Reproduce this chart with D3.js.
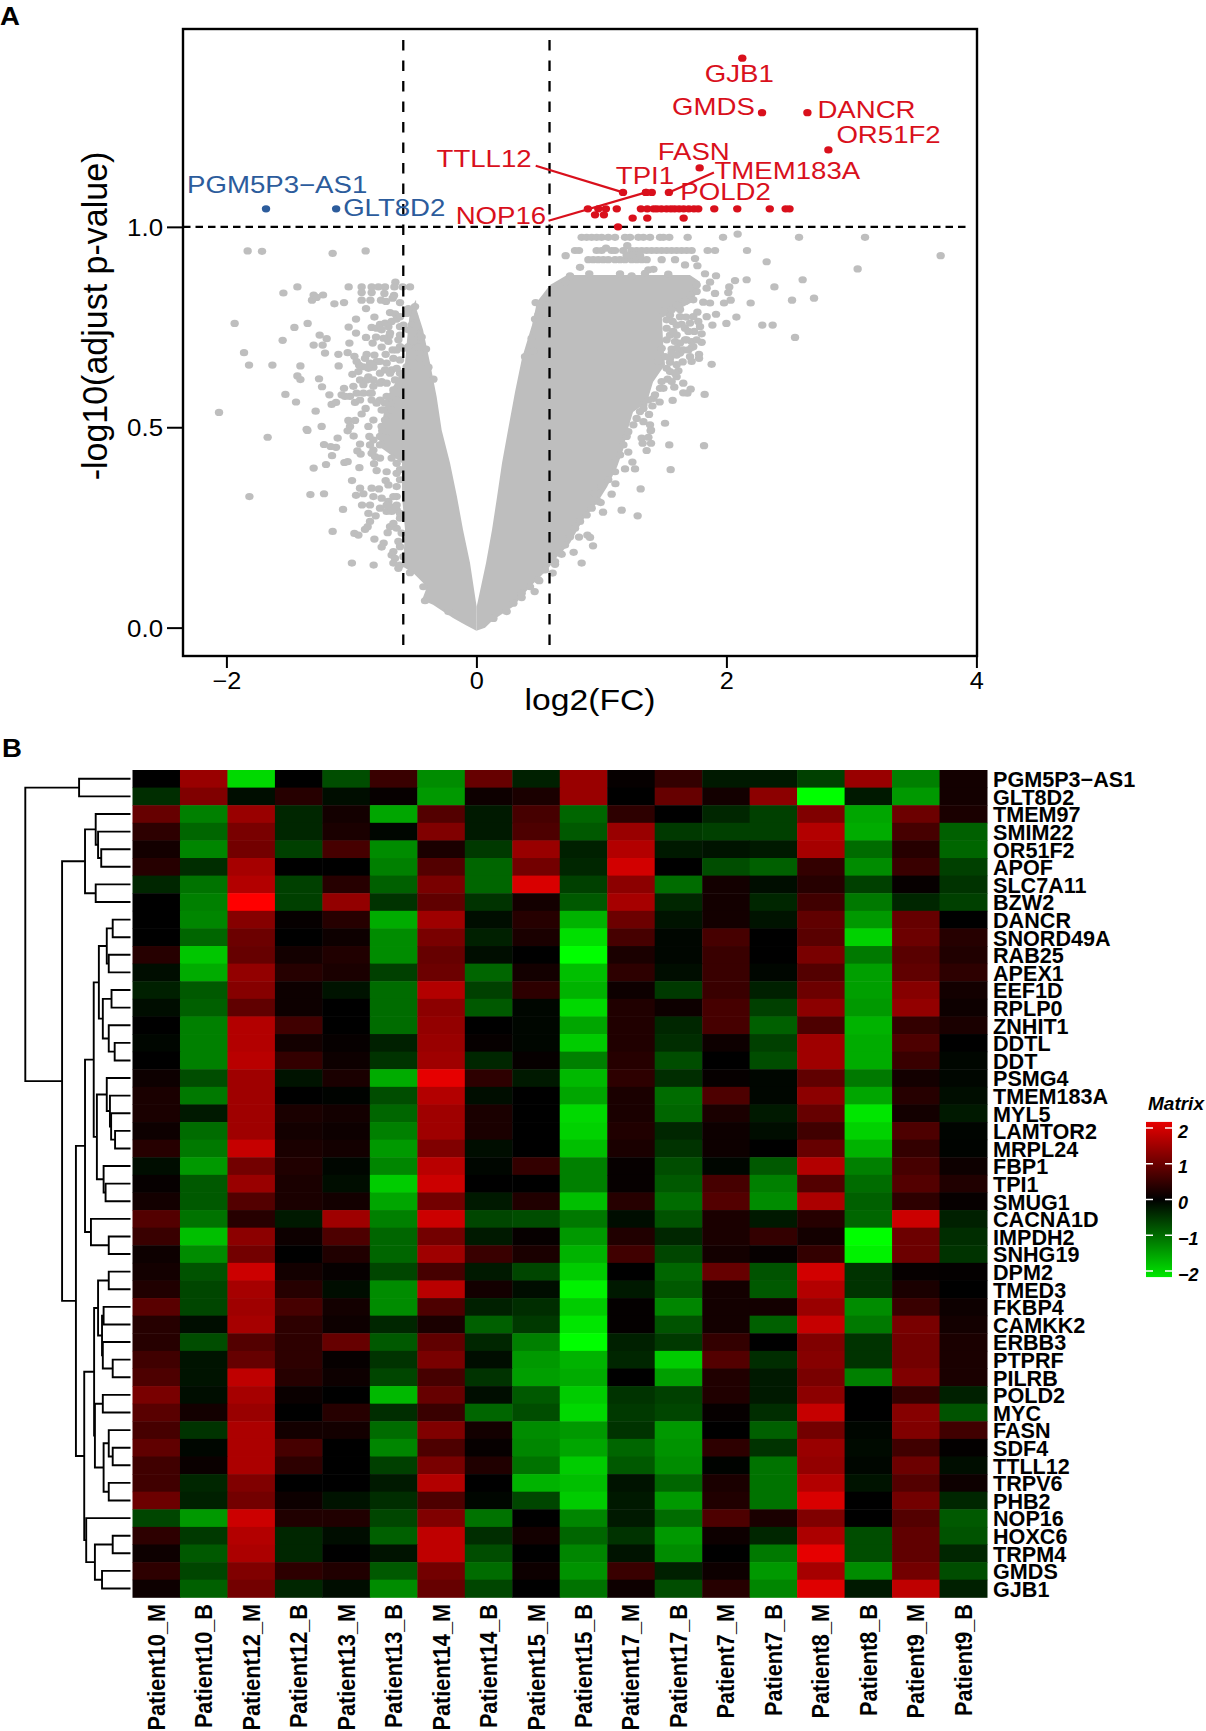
<!DOCTYPE html>
<html>
<head>
<meta charset="utf-8">
<script src="https://cdn.jsdelivr.net/npm/d3@7"></script>
<style>
  html, body { margin: 0; padding: 0; background: #fff; overflow: hidden; }
  svg { display: block; font-family: "Liberation Sans", Arial, sans-serif; }
</style>
</head>
<body>
<svg id="chart" width="1206" height="1731" viewBox="0 0 1206 1731"></svg>
<script>
// ---- panel A data: log2(FC), -log10(adjust p-value) ----

// Named genes
const geneNames = ['GJB1', 'GMDS', 'DANCR', 'OR51F2', 'FASN', 'TTLL12', 'TPI1', 'TMEM183A', 'POLD2', 'NOP16', 'PGM5P3−AS1', 'GLT8D2'];
const geneFC = [2.127, 2.285, 2.648, 2.816, 1.786, 1.173, 1.403, 1.54, 1.775, 1.357, -1.683, -1.122];
const geneLogP = [1.421, 1.285, 1.285, 1.192, 1.147, 1.086, 1.086, 1.086, 1.045, 1.086, 1.045, 1.045];

// Other significant genes
const redPoints = [
  [0.892, 1.045], [0.975, 1.045], [1.036, 1.045], [1.123, 1.045], [1.316, 1.045], [1.367, 1.045], [1.418, 1.045],
  [1.444, 1.045], [1.48, 1.045], [1.521, 1.045], [1.556, 1.045], [1.586, 1.045], [1.622, 1.045], [1.658, 1.045],
  [1.699, 1.045], [1.74, 1.045], [1.903, 1.045], [2.087, 1.045], [2.347, 1.045], [2.474, 1.045], [2.505, 1.045],
  [0.949, 1.03], [1.02, 1.03], [1.25, 1.022], [1.367, 1.022], [1.658, 1.022], [1.133, 1.0], [1.357, 1.086]
];

// The solid body of the cloud, outlined by eye, left and right of the V
const cloudLeft = [
  [0, -0.008], [-0.091, 0.007], [-0.187, 0.024], [-0.347, 0.057], [-0.435, 0.069], [-0.395, 0.102], [-0.507, 0.137],
  [-0.587, 0.152], [-0.571, 0.244], [-0.595, 0.326], [-0.595, 0.411], [-0.771, 0.451], [-0.787, 0.493], [-0.755, 0.511],
  [-0.715, 0.576], [-0.635, 0.618], [-0.571, 0.66], [-0.555, 0.718], [-0.531, 0.793], [-0.483, 0.818],
  [-0.478, 0.793], [-0.427, 0.743], [-0.371, 0.66], [-0.318, 0.576], [-0.278, 0.493], [-0.211, 0.411], [-0.155, 0.326],
  [-0.107, 0.244], [-0.051, 0.161], [0.002, 0.052]
];
const cloudRight = [
  [0, -0.008], [0.069, 0], [0.133, 0.019], [0.293, 0.052], [0.429, 0.102], [0.565, 0.144], [0.645, 0.176], [0.749, 0.211],
  [0.853, 0.269], [0.965, 0.311], [1.045, 0.351], [1.125, 0.401], [1.173, 0.443], [1.205, 0.488], [1.253, 0.538],
  [1.365, 0.563], [1.413, 0.613], [1.509, 0.656], [1.493, 0.713], [1.485, 0.773], [1.733, 0.813], [1.789, 0.863],
  [1.708, 0.88], [0.989, 0.88], [0.725, 0.88], [0.589, 0.855], [0.485, 0.813], [0.445, 0.755], [0.365, 0.673],
  [0.309, 0.588], [0.253, 0.493], [0.205, 0.411], [0.165, 0.326], [0.125, 0.244], [0.077, 0.161], [0.002, 0.052]
];

// Non-significant genes around the body
const greyLeft = [
  [-1.83, 0.94], [-1.715, 0.939], [-1.15, 0.934], [-0.886, 0.94], [-1.432, 0.85], [-1.544, 0.835], [-1.302, 0.83], [-1.227, 0.83],
  [-1.315, 0.817], [-1.278, 0.824], [-1.022, 0.85], [-0.918, 0.85], [-0.838, 0.85], [-0.784, 0.85], [-0.731, 0.85], [-0.648, 0.862],
  [-0.656, 0.85], [-0.59, 0.85], [-0.531, 0.85], [-0.918, 0.836], [-0.838, 0.836], [-0.736, 0.834], [-0.659, 0.829], [-0.918, 0.817],
  [-0.848, 0.817], [-0.763, 0.817], [-0.723, 0.814], [-0.67, 0.822], [-0.611, 0.811], [-1.136, 0.808], [-1.059, 0.811], [-0.883, 0.796],
  [-0.491, 0.801], [-0.544, 0.796], [-0.691, 0.786], [-0.651, 0.783], [-1.934, 0.759], [-1.35, 0.759], [-1.456, 0.749], [-0.963, 0.77],
  [-0.816, 0.775], [-0.499, 0.778], [-1.022, 0.75], [-0.838, 0.749], [-0.771, 0.757], [-0.704, 0.751], [-0.638, 0.77], [-0.584, 0.755],
  [-0.518, 0.755], [-0.963, 0.735], [-1.254, 0.73], [-1.198, 0.721], [-1.55, 0.717], [-0.883, 0.724], [-0.803, 0.725], [-0.83, 0.71],
  [-0.696, 0.728], [-0.611, 0.73], [-0.478, 0.735], [-0.438, 0.725], [-1.302, 0.705], [-1.23, 0.705], [-1.016, 0.71], [-0.758, 0.7],
  [-0.704, 0.714], [-0.624, 0.718], [-1.859, 0.686], [-1.211, 0.685], [-1.104, 0.682], [-1.03, 0.686], [-0.976, 0.677], [-0.878, 0.682],
  [-0.816, 0.68], [-0.726, 0.682], [-0.67, 0.693], [-0.464, 0.7], [-0.403, 0.695], [-0.584, 0.697], [-1.819, 0.655], [-1.632, 0.655],
  [-1.408, 0.653], [-1.102, 0.653], [-0.939, 0.655], [-0.891, 0.672], [-0.824, 0.65], [-0.718, 0.66], [-0.611, 0.668], [-0.451, 0.672],
  [-1.432, 0.628], [-1.408, 0.619], [-1.259, 0.621], [-0.992, 0.632], [-0.944, 0.639], [-0.864, 0.626], [-0.771, 0.635], [-0.678, 0.643],
  [-0.384, 0.65], [-0.344, 0.62], [-1.235, 0.601], [-1.059, 0.597], [-0.984, 0.602], [-0.904, 0.606], [-0.824, 0.602], [-0.758, 0.614],
  [-1.528, 0.582], [-1.176, 0.581], [-1.078, 0.581], [-1.011, 0.577], [-0.851, 0.585], [-0.771, 0.568], [-1.443, 0.563], [-1.158, 0.557],
  [-1.123, 0.562], [-0.971, 0.562], [-0.838, 0.568], [-0.731, 0.56], [-2.059, 0.537], [-1.286, 0.54], [-0.886, 0.547], [-0.918, 0.533],
  [-0.75, 0.543], [-1.358, 0.495], [-1.238, 0.502], [-1.024, 0.517], [-0.971, 0.517], [-1.011, 0.502], [-0.824, 0.518], [-0.864, 0.502],
  [-1.67, 0.475], [-1.352, 0.492], [-1.03, 0.491], [-1.11, 0.473], [-0.982, 0.478], [-0.856, 0.477], [-1.219, 0.457], [-1.166, 0.452],
  [-1.123, 0.45], [-0.931, 0.458], [-0.952, 0.441], [-0.926, 0.433], [-1.155, 0.429], [-0.824, 0.443], [-0.811, 0.427], [-1.203, 0.407],
  [-1.056, 0.412], [-1.03, 0.414], [-1.302, 0.398], [-0.936, 0.399], [-0.819, 0.409], [-0.798, 0.392], [-0.995, 0.367], [-0.726, 0.367],
  [-0.704, 0.356], [-0.931, 0.348], [-0.838, 0.348], [-0.779, 0.346], [-1.816, 0.327], [-1.328, 0.332], [-1.219, 0.334], [-0.963, 0.33],
  [-0.904, 0.334], [-0.824, 0.327], [-0.758, 0.323], [-0.704, 0.315], [-0.638, 0.327], [-0.915, 0.306], [-0.851, 0.306], [-0.771, 0.298],
  [-0.691, 0.302], [-1.067, 0.295], [-0.864, 0.285], [-0.806, 0.279], [-0.718, 0.29], [-0.638, 0.294], [-0.851, 0.265], [-0.87, 0.252],
  [-0.891, 0.245], [-0.691, 0.252], [-0.611, 0.273], [-1.15, 0.24], [-0.976, 0.235], [-0.944, 0.231], [-0.71, 0.237], [-0.638, 0.248],
  [-0.816, 0.221], [-0.742, 0.211], [-0.758, 0.201], [-0.624, 0.215], [-0.664, 0.19], [-0.678, 0.181], [-0.651, 0.173], [-0.664, 0.161],
  [-0.624, 0.148], [-0.996, 0.161], [-0.822, 0.156], [-0.531, 0.137], [-0.424, 0.102], [-0.411, 0.067], [-0.224, 0.04], [-0.771, 0.456],
  [-0.718, 0.473], [-0.771, 0.477], [-0.638, 0.385], [-0.611, 0.369],
  [-0.931, 0.618], [-0.878, 0.618], [-0.824, 0.618], [-0.771, 0.61], [-0.718, 0.61], [-0.958, 0.585], [-0.904, 0.585], [-0.838, 0.585],
  [-0.798, 0.56], [-0.718, 0.577], [-0.664, 0.593], [-0.651, 0.618], [-0.611, 0.635], [-0.558, 0.651], [-0.544, 0.701], [-0.504, 0.714],
  [-0.611, 0.701], [-0.664, 0.672], [-0.638, 0.647], [-0.798, 0.664], [-0.731, 0.643], [-0.851, 0.66], [-0.904, 0.651], [-0.691, 0.735],
  [-0.544, 0.743], [-0.504, 0.739], [-0.798, 0.747], [-0.731, 0.76], [-0.678, 0.764], [-0.611, 0.776], [-0.558, 0.784], [-0.758, 0.543],
  [-0.731, 0.518], [-0.758, 0.502], [-0.678, 0.543], [-0.638, 0.568], [-0.824, 0.468], [-0.851, 0.456], [-0.838, 0.435], [-0.771, 0.423],
  [-0.678, 0.423], [-0.638, 0.41], [-0.718, 0.389], [-0.611, 0.394], [-0.638, 0.352], [-0.664, 0.327], [-0.718, 0.306], [-0.638, 0.306],
  [-0.678, 0.29], [-0.611, 0.285], [-0.664, 0.26], [-0.598, 0.236], [-0.611, 0.202], [-0.584, 0.177], [-0.611, 0.156],
  [-0.958, 0.664], [-0.864, 0.647], [-0.771, 0.664], [-0.691, 0.635], [-1.051, 0.577], [-0.931, 0.568], [-0.638, 0.693], [-0.744, 0.722],
  [-0.758, 0.743], [-0.611, 0.751]
];
const greyRight = [
  [0.842, 0.974], [0.882, 0.974], [0.922, 0.974], [0.962, 0.974], [1.002, 0.974], [1.055, 0.974], [1.109, 0.974], [1.189, 0.974],
  [1.229, 0.974], [1.296, 0.974], [1.336, 0.974], [1.389, 0.974], [1.469, 0.974], [1.496, 0.974], [1.543, 0.974], [1.69, 0.974],
  [1.973, 0.974], [2.581, 0.974], [3.109, 0.974], [2.09, 0.982], [0.789, 0.941], [0.821, 0.941], [0.962, 0.941], [1.002, 0.941],
  [1.037, 0.947], [1.082, 0.941], [1.109, 0.941], [1.175, 0.941], [1.207, 0.953], [1.242, 0.941], [1.282, 0.941], [1.322, 0.941],
  [1.362, 0.941], [1.402, 0.941], [1.442, 0.941], [1.482, 0.941], [1.522, 0.941], [1.562, 0.941], [1.602, 0.941], [1.642, 0.941],
  [1.682, 0.941], [1.722, 0.941], [1.85, 0.941], [1.909, 0.941], [2.165, 0.941], [0.714, 0.928], [3.714, 0.928], [0.896, 0.918],
  [0.935, 0.918], [0.975, 0.918], [1.015, 0.918], [1.055, 0.918], [1.109, 0.918], [1.149, 0.918], [1.189, 0.918], [1.242, 0.918],
  [1.282, 0.918], [1.322, 0.918], [1.362, 0.918], [1.482, 0.918], [1.589, 0.918], [1.749, 0.921], [2.322, 0.913], [1.202, 0.93],
  [1.256, 0.93], [1.309, 0.928], [0.829, 0.899], [1.669, 0.905], [1.768, 0.903], [3.05, 0.895], [1.376, 0.893], [1.416, 0.894],
  [1.829, 0.883], [1.917, 0.878], [2.069, 0.866], [2.162, 0.868], [2.61, 0.868], [2.384, 0.85], [2.023, 0.85], [2.015, 0.836],
  [1.869, 0.862], [1.842, 0.847], [1.909, 0.834], [2.034, 0.817], [1.981, 0.81], [2.194, 0.81], [2.525, 0.817], [2.701, 0.822],
  [1.869, 0.81], [1.815, 0.812], [0.903, 0.883], [0.749, 0.878], [0.709, 0.863], [0.615, 0.847], [0.474, 0.811], [0.562, 0.805],
  [1.149, 0.883], [1.242, 0.878], [1.349, 0.884], [1.535, 0.882], [1.629, 0.794], [1.768, 0.787], [1.677, 0.775], [1.842, 0.776],
  [1.917, 0.782], [2.08, 0.775], [1.549, 0.78], [1.775, 0.764], [1.709, 0.76], [1.642, 0.757], [1.57, 0.764], [1.888, 0.755],
  [2.0, 0.759], [2.287, 0.755], [2.37, 0.755], [2.549, 0.724], [1.802, 0.733], [1.743, 0.739], [1.789, 0.751], [1.549, 0.73],
  [1.602, 0.73], [1.802, 0.712], [1.669, 0.718], [1.629, 0.71], [1.722, 0.714], [1.655, 0.693], [1.722, 0.699], [1.562, 0.695],
  [1.629, 0.685], [1.781, 0.682], [1.781, 0.672], [1.709, 0.676], [1.65, 0.663], [1.549, 0.672], [1.549, 0.662], [1.882, 0.657],
  [1.616, 0.641], [1.549, 0.639], [1.602, 0.626], [1.655, 0.61], [1.53, 0.62], [1.583, 0.6], [1.714, 0.595], [1.655, 0.586],
  [1.688, 0.585], [1.826, 0.582], [1.496, 0.597], [1.57, 0.567], [1.466, 0.563], [1.408, 0.553], [1.381, 0.532], [1.336, 0.514],
  [1.389, 0.506], [1.397, 0.493], [1.509, 0.51], [1.416, 0.572], [1.336, 0.556], [1.309, 0.539], [0.389, 0.676], [0.455, 0.69],
  [0.442, 0.722], [0.469, 0.77], [0.495, 0.78], [1.543, 0.456], [1.821, 0.454], [1.362, 0.442], [1.322, 0.473], [1.376, 0.475],
  [1.397, 0.46], [1.33, 0.46], [1.394, 0.491], [1.248, 0.413], [1.269, 0.396], [1.189, 0.396], [1.554, 0.394], [1.215, 0.438],
  [1.112, 0.359], [1.314, 0.346], [1.082, 0.333], [0.994, 0.312], [1.162, 0.293], [1.29, 0.279], [1.013, 0.288], [0.888, 0.231],
  [0.821, 0.226], [0.909, 0.225], [0.933, 0.204], [0.778, 0.188], [0.842, 0.161], [0.682, 0.183], [0.629, 0.158], [0.61, 0.136],
  [0.466, 0.09], [0.362, 0.075], [0.503, 0.117],
  [1.202, 0.477], [1.176, 0.456], [1.149, 0.431], [1.096, 0.41], [1.109, 0.389], [1.055, 0.369], [1.002, 0.352], [0.949, 0.335],
  [0.975, 0.315], [0.922, 0.298], [0.882, 0.281], [0.829, 0.265], [0.789, 0.248], [0.749, 0.227], [0.709, 0.206], [0.669, 0.186],
  [0.629, 0.165], [0.549, 0.144], [0.496, 0.119], [0.429, 0.102], [0.362, 0.086], [0.296, 0.061], [0.242, 0.04], [0.136, 0.023],
  [1.522, 0.747], [1.575, 0.739], [1.682, 0.718], [1.735, 0.701], [1.602, 0.697], [1.522, 0.718], [1.482, 0.697], [1.509, 0.676],
  [1.456, 0.664], [1.522, 0.647], [1.589, 0.635], [1.482, 0.614], [1.562, 0.614], [1.469, 0.597], [1.429, 0.581], [1.376, 0.568],
  [1.336, 0.547], [1.282, 0.522], [1.256, 0.506], [1.215, 0.489], [1.762, 0.839], [1.709, 0.83], [1.735, 0.818], [1.669, 0.814],
  [1.602, 0.805], [1.496, 0.789], [1.522, 0.768], [1.602, 0.755], [1.669, 0.747], [1.762, 0.855],
  [1.562, 0.793], [1.629, 0.776], [1.735, 0.776], [1.696, 0.739], [1.589, 0.714], [1.762, 0.718], [1.696, 0.693], [1.602, 0.68],
  [1.722, 0.664], [1.602, 0.656], [1.562, 0.685]
];

const fcCutoff = 0.585;
const logPCutoff = 1;
const fcTicks = [-2, 0, 2, 4];
const logPTicks = [0, 0.5, 1];

// ---- panel B data ----
const sampleNames = ['Patient10_M', 'Patient10_B', 'Patient12_M', 'Patient12_B', 'Patient13_M', 'Patient13_B', 'Patient14_M', 'Patient14_B', 'Patient15_M', 'Patient15_B', 'Patient17_M', 'Patient17_B', 'Patient7_M', 'Patient7_B', 'Patient8_M', 'Patient8_B', 'Patient9_M', 'Patient9_B'];
const rowNames = ['PGM5P3−AS1', 'GLT8D2', 'TMEM97', 'SMIM22', 'OR51F2', 'APOF', 'SLC7A11', 'BZW2', 'DANCR', 'SNORD49A', 'RAB25', 'APEX1', 'EEF1D', 'RPLP0', 'ZNHIT1', 'DDTL', 'DDT', 'PSMG4', 'TMEM183A', 'MYL5', 'LAMTOR2', 'MRPL24', 'FBP1', 'TPI1', 'SMUG1', 'CACNA1D', 'IMPDH2', 'SNHG19', 'DPM2', 'TMED3', 'FKBP4', 'CAMKK2', 'ERBB3', 'PTPRF', 'PILRB', 'POLD2', 'MYC', 'FASN', 'SDF4', 'TTLL12', 'TRPV6', 'PHB2', 'NOP16', 'HOXC6', 'TRPM4', 'GMDS', 'GJB1'];

// Read from cell brightness: 2 = full red, -2 = full green
const cellReadings = [
  [0, 1.2, -1.7, 0, -0.6, 0.45, -1.1, 0.8, -0.25, 1.2, 0.05, 0.4, -0.2, -0.2, -0.5, 1.2, -1.0, 0.15],
  [-0.35, 1.0, -0.1, 0.3, -0.1, 0.05, -1.2, 0.1, 0.2, 1.2, 0, 0.8, 0.15, 1.1, -2.0, -0.2, -1.2, 0.15],
  [0.8, -1.0, 1.2, -0.3, 0.15, -1.3, 0.65, -0.2, 0.55, -0.8, 0.35, 0, -0.3, -0.5, 1.0, -1.3, 0.85, 0.2],
  [0.35, -0.8, 0.95, -0.3, 0.2, -0.05, 1.0, -0.2, 0.6, -0.7, 1.2, -0.45, -0.5, -0.5, 1.4, -1.35, 0.55, -0.75],
  [0.15, -1.05, 0.9, -0.5, 0.55, -1.1, 0.2, -0.45, 1.2, -0.25, 1.4, -0.2, -0.15, -0.2, 1.3, -0.85, 0.3, -0.8],
  [0.3, -0.35, 1.3, 0, 0, -1.0, 0.65, -0.8, 0.9, -0.3, 1.65, 0, -0.6, -0.75, 0.4, -1.1, 0.45, -0.5],
  [-0.3, -0.9, 1.4, -0.5, 0.3, -0.75, 0.95, -0.8, 1.7, -0.5, 1.1, -0.85, 0.15, -0.1, 0.3, -0.5, 0.05, -0.4],
  [0, -1.0, 2.0, -0.5, 1.15, -0.4, 0.75, -0.4, 0.15, -0.7, 1.3, -0.3, 0.15, -0.3, 0.5, -0.95, -0.3, -0.5],
  [0, -1.05, 1.05, 0.05, 0.3, -1.35, 1.25, -0.1, 0.3, -1.4, 0.85, -0.15, 0.15, -0.15, 0.75, -1.2, 0.8, 0],
  [0, -0.8, 0.85, 0, 0.1, -1.1, 0.95, -0.25, 0.2, -1.75, 0.55, -0.05, 0.55, 0, 0.7, -1.65, 0.85, 0.3],
  [0.3, -1.55, 0.8, 0.15, 0.25, -1.1, 0.8, -0.1, 0, -2.0, 0.2, -0.05, 0.45, 0, 0.95, -0.95, 0.7, 0.25],
  [-0.1, -1.35, 1.15, 0.3, 0.2, -0.5, 0.85, -0.8, 0.15, -1.5, 0.35, -0.1, 0.45, -0.05, 0.65, -1.25, 0.75, 0.35],
  [-0.25, -0.7, 1.05, 0.1, -0.15, -0.85, 1.4, -0.5, 0.35, -1.4, 0.1, -0.45, 0.45, -0.25, 0.85, -1.25, 1.05, 0.15],
  [-0.1, -0.75, 0.75, 0.1, 0, -0.85, 1.1, -0.7, -0.05, -1.7, 0.25, 0.1, 0.55, -0.5, 1.1, -1.2, 1.15, 0.1],
  [0, -1.0, 1.4, 0.5, 0, -0.85, 1.15, 0, -0.05, -1.3, 0.25, -0.3, 0.55, -0.75, 0.6, -1.4, 0.4, 0.2],
  [-0.05, -1.0, 1.4, 0.15, 0.05, -0.25, 1.2, 0.05, -0.05, -1.6, 0.25, -0.35, 0.1, -0.5, 1.25, -1.35, 0.6, 0],
  [0, -1.0, 1.45, 0.4, 0.1, -0.4, 1.25, -0.3, 0.05, -1.0, 0.3, -0.6, 0, -0.6, 1.25, -1.35, 0.45, -0.05],
  [0.1, -0.6, 1.25, -0.15, 0.2, -1.35, 1.8, 0.35, -0.2, -1.45, 0.35, -0.35, 0.05, -0.05, 0.75, -0.95, 0.15, -0.05],
  [0.2, -0.95, 1.25, 0, -0.02, -0.6, 1.4, -0.1, 0, -1.3, 0.2, -0.85, 0.6, -0.05, 1.1, -1.3, 0.3, -0.1],
  [0.2, -0.2, 1.25, 0.2, 0.15, -0.8, 1.25, 0.2, 0, -1.7, 0.2, -0.8, 0.2, -0.2, 0.8, -1.8, 0.15, -0.2],
  [0.1, -0.85, 1.25, 0.15, 0.1, -1.0, 1.25, 0.2, 0, -1.65, 0.25, -0.3, 0.1, -0.1, 0.5, -1.65, 0.6, -0.03],
  [0.3, -0.95, 1.55, 0.2, 0.15, -1.2, 1.0, -0.1, 0, -1.5, 0.2, -0.4, 0.1, 0, 0.8, -1.4, 0.4, -0.02],
  [-0.1, -1.2, 0.9, 0.25, -0.05, -1.05, 1.45, -0.05, 0.4, -1.0, 0.05, -0.6, -0.05, -0.7, 1.4, -1.0, 0.55, 0.1],
  [0.05, -0.7, 1.2, 0.2, -0.1, -1.6, 1.6, 0, 0, -1.0, 0.05, -0.7, 0.55, -1.0, 0.65, -0.85, 0.65, 0.25],
  [0.15, -0.7, 0.65, 0.2, 0.15, -1.3, 0.9, -0.2, 0.25, -1.5, 0.3, -0.85, 0.65, -1.1, 1.35, -0.75, 0.35, 0.05],
  [0.65, -0.9, 0.3, -0.2, 1.25, -1.0, 1.6, -0.55, -0.6, -0.95, -0.1, -0.65, 0.2, -0.2, 0.3, -0.8, 1.6, -0.25],
  [0.45, -1.5, 1.1, 0.1, 0.6, -0.8, 0.9, -0.2, 0.05, -1.2, 0.25, -0.3, 0.2, 0.4, 0.15, -2.0, 0.85, -0.35],
  [0.1, -1.1, 0.9, 0, 0.25, -0.8, 1.25, 0.45, 0.2, -1.4, 0.5, -0.55, 0.15, 0.05, 0.4, -1.9, 0.85, -0.4],
  [0.15, -0.65, 1.6, 0.15, 0.05, -0.55, 0.55, -0.2, -0.55, -1.6, 0, -0.8, 0.8, -0.65, 1.65, -0.4, 0.05, 0.03],
  [0.25, -0.55, 1.3, 0.3, -0.1, -1.1, 1.45, 0.15, -0.1, -1.9, -0.2, -0.7, 0.15, -0.7, 1.4, -0.4, 0.2, 0],
  [0.7, -0.55, 1.25, 0.55, 0.15, -1.1, 0.6, -0.25, -0.35, -1.6, 0.03, -1.05, 0.15, 0.15, 1.2, -1.1, 0.45, 0.1],
  [0.3, -0.1, 1.3, 0.35, 0.1, -0.3, 0.2, -0.75, -0.45, -1.8, 0.03, -0.65, 0.15, -0.75, 1.55, -0.95, 0.95, 0.15],
  [0.3, -0.6, 0.65, 0.35, 0.8, -0.7, 0.75, -0.3, -1.0, -2.0, -0.25, -0.45, 0.4, 0, 1.0, -0.4, 0.9, 0.2],
  [0.5, -0.15, 0.8, 0.35, 0.05, -0.4, 0.95, -0.1, -1.2, -1.4, -0.3, -1.6, 0.65, -0.35, 1.05, -0.4, 0.9, 0.2],
  [0.6, -0.15, 1.5, 0.3, 0.1, -0.55, 0.55, -0.4, -1.25, -1.35, 0, -1.25, 0.25, -0.2, 0.95, -1.0, 1.0, 0.2],
  [0.95, -0.1, 1.3, 0.08, 0, -1.45, 0.8, -0.1, -0.7, -1.6, -0.4, -0.5, 0.25, -0.2, 1.1, 0, 0.4, -0.25],
  [0.7, 0.15, 1.2, 0, 0.3, -0.35, 0.45, -0.8, -0.6, -1.7, -0.45, -0.55, 0.05, -0.35, 1.55, 0, 1.05, -0.65],
  [0.55, -0.4, 1.35, 0.15, 0.15, -0.85, 1.0, 0.15, -1.1, -1.2, -0.4, -1.2, 0, -0.75, 0.9, -0.05, 1.0, 0.5],
  [0.75, -0.05, 1.35, 0.55, 0, -1.05, 0.6, 0.05, -1.05, -1.3, -0.8, -1.15, 0.35, -0.4, 1.2, -0.08, 0.5, 0.02],
  [0.5, 0.08, 1.35, 0.35, 0, -0.5, 0.95, 0.25, -0.9, -1.6, -0.7, -1.1, -0.02, -0.9, 1.15, -0.05, 0.85, -0.1],
  [0.5, -0.3, 1.0, 0, 0, -0.2, 1.4, 0, -1.4, -1.5, -0.15, -0.8, 0.2, -0.9, 1.4, -0.15, 0.65, 0.1],
  [0.85, -0.25, 0.9, 0.1, -0.15, -0.35, 0.6, -0.05, -0.55, -1.6, -0.2, -1.2, 0.25, -0.9, 1.7, 0, 0.9, -0.3],
  [-0.55, -1.2, 1.6, 0.25, 0.25, -0.55, 1.0, -0.9, 0, -1.05, -0.2, -0.85, 0.6, 0.2, 1.0, 0, 0.65, -0.7],
  [0.35, -0.45, 1.4, -0.3, -0.1, -0.75, 1.5, -0.35, 0.15, -0.8, -0.4, -1.2, 0.1, -0.3, 1.35, -0.6, 0.75, -0.65],
  [0.1, -0.7, 1.35, -0.3, 0, -0.15, 1.5, -0.6, 0, -1.05, -0.15, -1.1, 0, -0.95, 1.8, -0.6, 0.75, -0.3],
  [0.35, -0.55, 1.0, 0.35, 0.25, -0.7, 0.9, -0.85, 0.1, -1.15, 0.45, -0.25, 0.1, -1.2, 1.3, -1.1, 0.9, -0.6],
  [0.1, -0.75, 0.9, -0.3, -0.1, -1.1, 0.8, -0.55, 0, -0.9, 0.1, -0.6, 0.3, -1.05, 1.75, -0.2, 1.5, -0.25]
];

// Row dendrogram as nested [height, left, right], leaves are row indices
const rowTree = [266, [130, 0, 1], [173,
  [115, [88, 2, [82, 3, [74, 4, 5]]], [88, 6, 7]],
  [138,
    [115,
      [93,
        [80, [60, [45, 8, 9], [55, 10, 11]], [70, [48, 12, 13], [55, 14, [40, 15, 16]]]],
        [85, [60, 17, [52, 18, [49, 19, [39, 20, 21]]]], [68, 22, [63, 23, 24]]]],
      [100, 25, [55, 26, 27]]],
    [117,
      [92,
        [82, [55, 28, 29], [72, [68, 30, 31], [70, 32, [45, 33, 34]]]],
        [90, [70, 35, 36], [68, [55, 37, [45, 38, 39]], [55, 40, 41]]]],
      [112, 42, [90, [45, 43, 44], [72, 45, 46]]]]]]];

const legendTicks = [2, 1, 0, -1, -2];

// ---- layout ----
const RED = '#d9101c';
const BLUE = '#2c5c9c';
const GREY = '#bebebe';
const READING_TO_VALUE = 1.2; // the legend's 2 is darker than the darkest cell's full red
const COLOR_LIMIT = 2.4;

const A = {left: 183, right: 977, top: 29, bottom: 656};
const B = {left: 132.5, right: 987, top: 770, bottom: 1597.3};

// Where each gene's label starts relative to its point, plus leader line ends
const labelOffsets = {
  'GJB1': [-37.5, 24], 'GMDS': [-90, 2], 'DANCR': [10, 5], 'OR51F2': [8, -7], 'FASN': [-42, -8],
  'TTLL12': [-186.5, -25], 'TPI1': [-36, -8], 'TMEM183A': [45.6, -13], 'POLD2': [-18, -9],
  'NOP16': [-190.4, 32], 'PGM5P3−AS1': [-79, -16], 'GLT8D2': [7, 7]
};
const leaderEnds = {'TTLL12': [-87.3, -26.7], 'TMEM183A': [45, -20], 'NOP16': [-97.5, 28.3]};

const svg = d3.select('#chart');

// ---- panel A ----
const x = d3.scaleLinear().domain([(A.left - 476.4) / 125, (A.right - 476.4) / 125]).range([A.left, A.right]);
const y = d3.scaleLinear().domain([-0.0708, 1.4937]).range([A.bottom, A.top]);

const panelA = svg.append('g');
const outline = d3.line().x(d => x(d[0])).y(d => y(d[1])).curve(d3.curveLinearClosed);

panelA.selectAll('path.cloud')
  .data([cloudLeft, cloudRight])
  .enter()
  .append('path')
  .attr('class', 'cloud')
  .attr('d', outline)
  .attr('fill', GREY);

function drawDots(points, color) {
  panelA.append('g')
    .selectAll('ellipse')
    .data(points)
    .enter()
    .append('ellipse')
    .attr('cx', d => x(d[0]))
    .attr('cy', d => y(d[1]))
    .attr('rx', 4.2)
    .attr('ry', 3.6)
    .attr('fill', color);
}

drawDots(greyLeft.concat(greyRight), GREY);

// cutoff lines
const dashes = panelA.append('g').attr('stroke', '#000').attr('stroke-width', 2.3);
dashes.selectAll('line.v')
  .data([-fcCutoff, fcCutoff])
  .enter()
  .append('line')
  .attr('class', 'v')
  .attr('x1', d => x(d))
  .attr('x2', d => x(d))
  .attr('y1', 40)
  .attr('y2', A.bottom)
  .attr('stroke-dasharray', '10.5 10');
dashes.append('line')
  .attr('x1', A.left)
  .attr('x2', 970)
  .attr('y1', y(logPCutoff))
  .attr('y2', y(logPCutoff))
  .attr('stroke-dasharray', '7.5 5');

drawDots(redPoints, RED);

const genes = geneNames.map((name, i) => ({name, fc: geneFC[i], p: geneLogP[i], color: geneFC[i] > 0 ? RED : BLUE}));
drawDots(genes.map(g => [g.fc, g.p]).filter(d => d[0] > 0), RED);
drawDots(genes.map(g => [g.fc, g.p]).filter(d => d[0] < 0), BLUE);

panelA.selectAll('line.leader')
  .data(genes.filter(g => leaderEnds[g.name]))
  .enter()
  .append('line')
  .attr('class', 'leader')
  .attr('x1', g => x(g.fc))
  .attr('y1', g => y(g.p))
  .attr('x2', g => x(g.fc) + leaderEnds[g.name][0])
  .attr('y2', g => y(g.p) + leaderEnds[g.name][1])
  .attr('stroke', RED)
  .attr('stroke-width', 2.2);

panelA.selectAll('text.gene')
  .data(genes)
  .enter()
  .append('text')
  .attr('class', 'gene')
  .attr('transform', g => `translate(${x(g.fc) + labelOffsets[g.name][0]},${y(g.p) + labelOffsets[g.name][1]}) scale(1.15,1)`)
  .attr('font-size', 24)
  .attr('fill', g => g.color)
  .text(g => g.name);

// frame and axes
panelA.append('rect')
  .attr('x', A.left)
  .attr('y', A.top)
  .attr('width', A.right - A.left)
  .attr('height', A.bottom - A.top)
  .attr('fill', 'none')
  .attr('stroke', '#000')
  .attr('stroke-width', 2.4);

const xAxis = panelA.append('g')
  .attr('transform', `translate(0,${A.bottom})`)
  .call(d3.axisBottom(x).tickValues(fcTicks).tickSize(12).tickFormat(d3.format('d')));
xAxis.select('.domain').remove();
xAxis.selectAll('line').attr('stroke', '#000').attr('stroke-width', 2);
xAxis.selectAll('text')
  .attr('y', 33)
  .attr('dy', 0)
  .attr('transform', 'scale(1.1,1)')
  .attr('font-size', 23)
  .attr('font-family', 'Liberation Sans')
  .attr('fill', '#000');

const yAxis = panelA.append('g')
  .attr('transform', `translate(${A.left},0)`)
  .call(d3.axisLeft(y).tickValues(logPTicks).tickSize(16).tickFormat(d3.format('.1f')));
yAxis.select('.domain').remove();
yAxis.selectAll('line').attr('stroke', '#000').attr('stroke-width', 2);
yAxis.selectAll('text')
  .attr('x', -20 / 1.1)
  .attr('dy', '0.36em')
  .attr('transform', 'scale(1.1,1)')
  .attr('font-size', 23.5)
  .attr('font-family', 'Liberation Sans')
  .attr('fill', '#000');

panelA.append('text')
  .attr('transform', 'translate(590,710) scale(1.16,1)')
  .attr('text-anchor', 'middle')
  .attr('font-size', 29)
  .text('log2(FC)');

panelA.append('text')
  .attr('transform', 'translate(107,316) scale(1.04,1) rotate(-90)')
  .attr('text-anchor', 'middle')
  .attr('font-size', 34)
  .text('-log10(adjust p-value)');

// panel letters
[['A', 0, 25], ['B', 2, 757]].forEach(d => {
  svg.append('text')
    .attr('transform', `translate(${d[1]},${d[2]}) scale(1.06,1)`)
    .attr('font-size', 26)
    .attr('font-weight', 'bold')
    .text(d[0]);
});

// ---- panel B ----
const colX = d3.scaleBand().domain(sampleNames).range([B.left, B.right]);
const rowY = d3.scaleBand().domain(rowNames).range([B.top, B.bottom]);
const cellColor = d3.scaleLinear()
  .domain([-COLOR_LIMIT, 0, COLOR_LIMIT])
  .range(['#00ff00', '#000000', '#ff0000'])
  .clamp(true);

const panelB = svg.append('g');

panelB.selectAll('g.row')
  .data(cellReadings)
  .enter()
  .append('g')
  .attr('class', 'row')
  .attr('transform', (d, i) => `translate(0,${rowY(rowNames[i])})`)
  .selectAll('rect')
  .data(d => d)
  .enter()
  .append('rect')
  .attr('x', (d, j) => colX(sampleNames[j]))
  .attr('width', colX.bandwidth() + 0.5)
  .attr('height', rowY.bandwidth() + 0.5)
  .attr('fill', d => cellColor(d * READING_TO_VALUE));

panelB.selectAll('text.rowname')
  .data(rowNames)
  .enter()
  .append('text')
  .attr('class', 'rowname')
  .attr('x', 993)
  .attr('y', d => rowY(d) + rowY.bandwidth() / 2 + 8.3)
  .attr('font-size', 21.6)
  .attr('font-weight', 'bold')
  .text(d => d);

panelB.selectAll('text.colname')
  .data(sampleNames)
  .enter()
  .append('text')
  .attr('class', 'colname')
  .attr('transform', d => `translate(${colX(d) + colX.bandwidth() / 2 + 8.5},1604) scale(1.12,1) rotate(-90)`)
  .attr('text-anchor', 'end')
  .attr('font-size', 21.7)
  .attr('font-weight', 'bold')
  .text(d => d);

// dendrogram, drawn from the leaves up
const treeX = d3.scaleLinear().domain([0, 266]).range([130.5, 25.3]);
const treeG = panelB.append('g')
  .attr('fill', 'none')
  .attr('stroke', '#000')
  .attr('stroke-width', 1.9);

function drawTree(node) {
  if (typeof node === 'number') {
    return {h: 0, pos: rowY(rowNames[node]) + rowY.bandwidth() / 2};
  }
  let a = drawTree(node[1]);
  let b = drawTree(node[2]);
  treeG.append('path')
    .attr('d', `M${treeX(a.h)},${a.pos}H${treeX(node[0])}V${b.pos}H${treeX(b.h)}`);
  return {h: node[0], pos: (a.pos + b.pos) / 2};
}
drawTree(rowTree);

// legend
const legendY = d3.scaleLinear().domain([-2, 2]).range([1271, 1128]);
const legendX = 1146;
const legendW = 26;

const gradient = svg.append('defs')
  .append('linearGradient')
  .attr('id', 'legendRamp')
  .attr('x1', 0).attr('x2', 0).attr('y1', 1).attr('y2', 0);
gradient.selectAll('stop')
  .data([-2.17, 0, 2.17])
  .enter()
  .append('stop')
  .attr('offset', (d, i) => i / 2)
  .attr('stop-color', d => cellColor(d));

const legend = svg.append('g');
legend.append('text')
  .attr('x', 1148)
  .attr('y', 1110)
  .attr('font-size', 19)
  .attr('font-weight', 'bold')
  .attr('font-style', 'italic')
  .text('Matrix');
legend.append('rect')
  .attr('x', legendX)
  .attr('y', legendY(2.17))
  .attr('width', legendW)
  .attr('height', legendY(-2.17) - legendY(2.17))
  .attr('fill', 'url(#legendRamp)');

legendTicks.forEach(t => {
  [[legendX, legendX + 7], [legendX + legendW - 7, legendX + legendW]].forEach(s => {
    legend.append('line')
      .attr('x1', s[0])
      .attr('x2', s[1])
      .attr('y1', legendY(t))
      .attr('y2', legendY(t))
      .attr('stroke', '#fff')
      .attr('stroke-width', 1.5);
  });
  legend.append('text')
    .attr('x', 1178)
    .attr('y', legendY(t) + 9.5)
    .attr('font-size', 18)
    .attr('font-weight', 'bold')
    .attr('font-style', 'italic')
    .text(d3.format('d')(t));
});
</script>
</body>
</html>
